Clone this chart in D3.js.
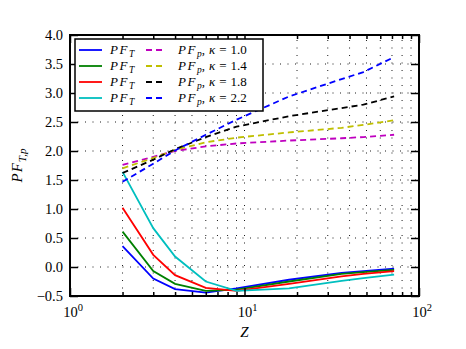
<!DOCTYPE html>
<html>
<head>
<meta charset="utf-8">
<title>PF vs Z</title>
<style>
  body { margin: 0; background: #fff; }
  text { font-family: "Liberation Serif", "DejaVu Serif", serif; fill: #000; }
</style>
</head>
<body>
<script src="https://cdn.jsdelivr.net/npm/d3@7"></script>
<script>
// data
var zValues = [2, 3, 4, 6, 9, 18, 36, 48, 72];
var kappas = ["1.0", "1.4", "1.8", "2.2"];
var pfT = [
  [0.36, -0.20, -0.38, -0.44, -0.37, -0.22, -0.10, -0.07, -0.03],
  [0.61, -0.07, -0.29, -0.41, -0.39, -0.25, -0.12, -0.09, -0.05],
  [1.02, 0.21, -0.14, -0.36, -0.41, -0.29, -0.16, -0.12, -0.07],
  [1.64, 0.67, 0.18, -0.25, -0.41, -0.37, -0.24, -0.19, -0.13]
];
var pfP = [
  [1.76, 1.90, 2.00, 2.08, 2.13, 2.18, 2.22, 2.24, 2.28],
  [1.70, 1.88, 2.02, 2.15, 2.23, 2.32, 2.40, 2.45, 2.53],
  [1.62, 1.85, 2.03, 2.24, 2.42, 2.60, 2.74, 2.80, 2.94],
  [1.47, 1.78, 2.01, 2.28, 2.54, 2.94, 3.24, 3.36, 3.62]
];
var colorsT = ["#0000ff", "#008000", "#ff0000", "#00bfbf"];
var colorsP = ["#bf00bf", "#bfbf00", "#000000", "#0000ff"];
var yTicks = [-0.5, 0.0, 0.5, 1.0, 1.5, 2.0, 2.5, 3.0, 3.5, 4.0];
var xMajor = [1, 10, 100];
var xExp = ["0", "1", "2"];

var width = 466, height = 349;
var pl = 70, pr = 419, pt = 35, pb = 296;

var svg = d3.select("body").append("svg")
  .attr("width", width).attr("height", height);

var x = d3.scaleLog().domain([1, 100]).range([pl, pr]);
var y = d3.scaleLinear().domain([-0.5, 4.0]).range([pb, pt]);

var xMinor = x.ticks().filter(function(d) { return xMajor.indexOf(d) < 0; });
var xAll = x.ticks();

// dotted grid
var grid = svg.append("g")
  .attr("stroke", "#000").attr("stroke-width", 0.9)
  .attr("stroke-dasharray", "1,6.5").attr("fill", "none");
grid.selectAll("line.v").data(xAll.filter(function(d) { return d > 1 && d < 100; }))
  .enter().append("line")
  .attr("x1", function(d) { return x(d); }).attr("x2", function(d) { return x(d); })
  .attr("y1", pb).attr("y2", pt);
grid.selectAll("line.h").data(yTicks.slice(1, -1))
  .enter().append("line")
  .attr("y1", function(d) { return y(d); }).attr("y2", function(d) { return y(d); })
  .attr("x1", pl).attr("x2", pr);

var line = d3.line()
  .x(function(d, i) { return x(zValues[i]); })
  .y(function(d) { return y(d); });

svg.selectAll("path.t").data(pfT).enter().append("path")
  .attr("d", line).attr("fill", "none")
  .attr("stroke", function(d, i) { return colorsT[i]; })
  .attr("stroke-width", 1.8);

svg.selectAll("path.p").data(pfP).enter().append("path")
  .attr("d", line).attr("fill", "none")
  .attr("stroke", function(d, i) { return colorsP[i]; })
  .attr("stroke-width", 1.8)
  .attr("stroke-dasharray", "6,4");

// axes with inward ticks
function styleAxis(g) {
  g.select(".domain").remove();
  g.selectAll(".tick line").attr("stroke", "#000").attr("stroke-width", 1.5);
  g.selectAll(".tick text").remove();
}
svg.append("g").attr("transform", "translate(0," + pb + ")")
  .call(d3.axisBottom(x).tickValues(xMajor).tickSize(-8)).call(styleAxis);
svg.append("g").attr("transform", "translate(0," + pb + ")")
  .call(d3.axisBottom(x).tickValues(xMinor).tickSize(-4)).call(styleAxis);
svg.append("g").attr("transform", "translate(0," + pt + ")")
  .call(d3.axisTop(x).tickValues(xMajor).tickSize(-8)).call(styleAxis);
svg.append("g").attr("transform", "translate(0," + pt + ")")
  .call(d3.axisTop(x).tickValues(xMinor).tickSize(-4)).call(styleAxis);
svg.append("g").attr("transform", "translate(" + pl + ",0)")
  .call(d3.axisLeft(y).tickValues(yTicks).tickSize(-8)).call(styleAxis);
svg.append("g").attr("transform", "translate(" + pr + ",0)")
  .call(d3.axisRight(y).tickValues(yTicks).tickSize(-8)).call(styleAxis);

// y tick labels
svg.selectAll("text.yt").data(yTicks).enter().append("text")
  .attr("x", pl - 7).attr("y", function(d) { return y(d) + 5; })
  .attr("text-anchor", "end").attr("font-size", 14.5)
  .text(function(d) { return d3.format(".1f")(d).replace("-", "\u2212"); });

// x tick labels 10^n
var xt = svg.selectAll("text.xt").data(xMajor).enter().append("text")
  .attr("x", function(d) { return x(d) + 3; }).attr("y", 317)
  .attr("text-anchor", "middle").attr("font-size", 14.5);
xt.append("tspan").text("10");
xt.append("tspan").attr("font-size", 10.5).attr("dy", -6)
  .text(function(d, i) { return xExp[i]; });

// axis titles
svg.append("text").attr("x", x(10)).attr("y", 337)
  .attr("text-anchor", "middle").attr("font-size", 15)
  .attr("font-style", "italic").text("Z");

var yl = svg.append("text")
  .attr("transform", "translate(22," + ((pt + pb) / 2) + ") rotate(-90)")
  .attr("text-anchor", "middle").attr("font-size", 15).attr("font-style", "italic");
yl.append("tspan").attr("letter-spacing", 1).text("PF");
yl.append("tspan").attr("font-size", 11).attr("dy", 4).text("T,p");

// legend
var leg = svg.append("g");
leg.append("rect").attr("x", 75).attr("y", 39).attr("width", 188).attr("height", 72)
  .attr("fill", "#fff").attr("stroke", "#000").attr("stroke-width", 1.5);
var rowY = [50, 66, 82, 98];
kappas.forEach(function(k, i) {
  var ry = rowY[i];
  leg.append("line").attr("x1", 79).attr("x2", 102).attr("y1", ry).attr("y2", ry)
    .attr("stroke", colorsT[i]).attr("stroke-width", 1.8);
  var t1 = leg.append("text").attr("x", 110).attr("y", ry + 4)
    .attr("font-size", 13).attr("font-style", "italic");
  t1.append("tspan").attr("letter-spacing", 1.5).text("PF");
  t1.append("tspan").attr("font-size", 9.5).attr("dy", 3).text("T");

  leg.append("line").attr("x1", 146).attr("x2", 166).attr("y1", ry).attr("y2", ry)
    .attr("stroke", colorsP[i]).attr("stroke-width", 1.8)
    .attr("stroke-dasharray", "6,4");
  var t2 = leg.append("text").attr("x", 178).attr("y", ry + 4)
    .attr("font-size", 13);
  t2.append("tspan").attr("font-style", "italic").attr("letter-spacing", 1.5).text("PF");
  t2.append("tspan").attr("font-style", "italic").attr("font-size", 9.5).attr("dy", 3).text("p");
  t2.append("tspan").attr("dy", -3).text(",");
  t2.append("tspan").attr("font-style", "italic").attr("dx", 4).text("\u03ba");
  t2.append("tspan").attr("dx", 4).text("=");
  t2.append("tspan").attr("dx", 4).text(k);
});

// frame
svg.append("rect").attr("x", pl).attr("y", pt)
  .attr("width", pr - pl).attr("height", pb - pt)
  .attr("fill", "none").attr("stroke", "#000").attr("stroke-width", 2);
</script>
</body>
</html>
